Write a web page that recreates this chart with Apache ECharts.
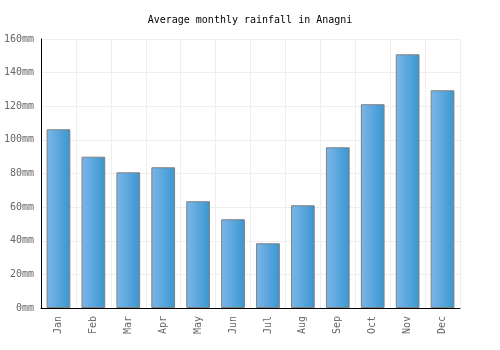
<!DOCTYPE html>
<html>
<head>
<meta charset="utf-8">
<script src="https://cdn.jsdelivr.net/npm/echarts@6/dist/echarts.min.js"></script>
<style>
  html, body { margin: 0; padding: 0; background: #fff; }
  #chart { width: 500px; height: 350px; }
</style>
</head>
<body>
<div id="chart"></div>
<script>
var months = ['Jan', 'Feb', 'Mar', 'Apr', 'May', 'Jun', 'Jul', 'Aug', 'Sep', 'Oct', 'Nov', 'Dec'];
var rainfall = [106.3, 90.0, 80.7, 83.7, 63.5, 52.8, 38.5, 61.1, 95.6, 121.2, 150.9, 129.5];
var yTicks = [0, 20, 40, 60, 80, 100, 120, 140, 160];

var font = '"DejaVu Sans Mono", monospace';
var chart = echarts.init(document.getElementById('chart'));

var option = {
  animation: false,
  title: {
    text: 'Average monthly rainfall in Anagni',
    left: 'center',
    top: 10,
    textStyle: { fontFamily: font, fontSize: 10, fontWeight: 'normal', color: '#000' }
  },
  grid: { left: 41, right: 40, top: 39, bottom: 42, containLabel: false, outerBoundsMode: 'none' },
  xAxis: {
    type: 'category',
    data: months,
    axisLine: { lineStyle: { color: '#000', width: 1 } },
    axisTick: { show: false },
    splitLine: { show: true, lineStyle: { color: '#eeeeee' } },
    axisLabel: {
      rotate: 90,
      fontFamily: font,
      fontSize: 10,
      color: '#666',
      margin: 8
    }
  },
  yAxis: {
    type: 'value',
    min: yTicks[0],
    max: yTicks[yTicks.length - 1],
    interval: 20,
    axisLine: { show: true, lineStyle: { color: '#000', width: 1 } },
    axisTick: { show: false },
    splitLine: { lineStyle: { color: '#eeeeee' } },
    axisLabel: {
      fontFamily: font,
      fontSize: 10,
      color: '#666',
      margin: 7,
      formatter: '{value}mm'
    }
  },
  series: [{
    type: 'bar',
    data: rainfall,
    barCategoryGap: '32%',
    itemStyle: {
      borderColor: '#808080',
      borderWidth: 1,
      color: new echarts.graphic.LinearGradient(0, 0, 1, 0, [
        { offset: 0, color: '#7bb7ea' },
        { offset: 1, color: '#3996cf' }
      ])
    }
  }]
};
chart.setOption(option);
</script>
</body>
</html>
